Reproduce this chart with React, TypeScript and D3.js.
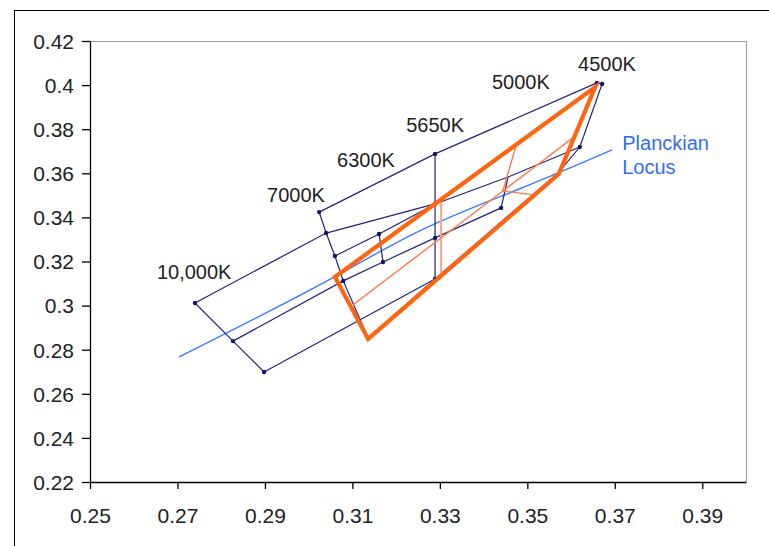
import React, { useEffect, useRef } from "react";
import * as d3 from "d3";

// chromaticity (CIE x, y)
const xTicks = [0.25, 0.27, 0.29, 0.31, 0.33, 0.35, 0.37, 0.39];
const yTicks = [0.22, 0.24, 0.26, 0.28, 0.3, 0.32, 0.34, 0.36, 0.38, 0.4, 0.42];

// isotemperature lines (navy)
const isoLines: [number, number][][] = [
    [[0.2740, 0.3012], [0.2827, 0.2839], [0.2898, 0.2699]], // 10,000K
    [[0.3024, 0.3424], [0.3040, 0.3329], [0.3060, 0.3225], [0.3079, 0.3112], [0.3136, 0.2853]], // 7000K
    [[0.3161, 0.3325], [0.3170, 0.3198]], // 6300K
    [[0.3289, 0.3688], [0.3289, 0.3461], [0.3289, 0.3307], [0.3289, 0.3121]], // 5650K
    [[0.3440, 0.3443], [0.3456, 0.3583]], // 5000K
    [[0.3659, 0.4010], [0.3671, 0.4005], [0.3620, 0.3719], [0.3570, 0.3601]], // 4500K
    [[0.3659, 0.4010], [0.3570, 0.3601]],
];

// lines joining the isotemperature lines (navy)
const duvLines: [number, number][][] = [
    [[0.3024, 0.3424], [0.3289, 0.3688], [0.3659, 0.4010]],
    [[0.2740, 0.3012], [0.3040, 0.3329], [0.3289, 0.3461]],
    [[0.3060, 0.3225], [0.3161, 0.3325], [0.3289, 0.3461], [0.3456, 0.3583], [0.3620, 0.3719]],
    [[0.2827, 0.2839], [0.3079, 0.3112], [0.3170, 0.3198], [0.3289, 0.3307], [0.3440, 0.3443]],
    [[0.2898, 0.2699], [0.3289, 0.3121]],
    [[0.3136, 0.2853], [0.3289, 0.3121], [0.3570, 0.3601]],
];

const dots: [number, number][] = [
    [0.2740, 0.3012], [0.2827, 0.2839], [0.2898, 0.2699],
    [0.3024, 0.3424], [0.3040, 0.3329], [0.3060, 0.3225], [0.3079, 0.3112], [0.3136, 0.2853],
    [0.3161, 0.3325], [0.3170, 0.3198],
    [0.3289, 0.3688], [0.3289, 0.3461], [0.3289, 0.3307], [0.3289, 0.3121],
    [0.3440, 0.3443],
    [0.3659, 0.4010], [0.3671, 0.4005], [0.3620, 0.3719],
];

// orange quadrangle and its subdivisions
const quad: [number, number][] = [[0.3060, 0.3130], [0.3655, 0.3991], [0.3572, 0.3597], [0.3136, 0.2849]];
const quadMid: [number, number][] = [[0.3101, 0.3003], [0.3607, 0.3765]];
const quadSplit: [number, number][] = [[0.3474, 0.3724], [0.3444, 0.3520], [0.3515, 0.3502]];
const quadSplit2: [number, number][] = [[0.3296, 0.3470], [0.3296, 0.3125]];

const locus: [number, number][] = [[0.2704, 0.2767], [0.3026, 0.3095], [0.3255, 0.3340], [0.3483, 0.3530], [0.3694, 0.3706]];

const cctLabels = ["10,000K", "7000K", "6300K", "5650K", "5000K", "4500K"];
const cctLabelPos: [number, number][] = [[0.2653, 0.3120], [0.2905, 0.3470], [0.3065, 0.3629], [0.3223, 0.3787], [0.3419, 0.3982], [0.3616, 0.4064]];
const locusLabel = ["Planckian", "Locus"];
const locusLabelPos: [number, number][] = [[0.3717, 0.3706], [0.3717, 0.3597]];

export default function App() {
    const ref = useRef<SVGSVGElement>(null);

    useEffect(() => {
        const svg = d3.select(ref.current);
        svg.selectAll("*").remove();

        const x = d3.scaleLinear().domain([0.25, 0.40]).range([90, 746]);
        const y = d3.scaleLinear().domain([0.22, 0.42]).range([482, 41]);
        const line = d3.line<[number, number]>().x(d => x(d[0])).y(d => y(d[1]));
        const font = "'Liberation Sans', Arial, sans-serif";

        svg.append("rect").attr("width", 769).attr("height", 546).attr("fill", "white");
        // chart frame
        svg.append("rect").attr("x", 14.5).attr("y", 10.5).attr("width", 800).attr("height", 600)
            .attr("fill", "none").attr("stroke", "#000").attr("stroke-width", 1);

        // plot area border (top, right)
        svg.append("path")
            .attr("d", `M${x(0.25)},${y(0.42) + 0.5}H${x(0.40) + 0.5}V${y(0.22)}`)
            .attr("fill", "none").attr("stroke", "#9a9a9a").attr("stroke-width", 1);

        // axes
        const ax = svg.append("g").attr("transform", `translate(0,${y(0.22)})`)
            .call(d3.axisBottom(x).tickValues(xTicks).tickSize(7).tickSizeOuter(0).tickFormat(d => String(d)));
        const ay = svg.append("g").attr("transform", `translate(${x(0.25)},0)`)
            .call(d3.axisLeft(y).tickValues(yTicks).tickSize(8).tickSizeOuter(0).tickFormat(d => String(d)));
        [ax, ay].forEach(a => {
            a.select(".domain").attr("stroke", "#000").attr("stroke-width", 1.3);
            a.selectAll(".tick line").attr("stroke", "#000").attr("stroke-width", 1.3);
            a.selectAll("text").attr("font-family", font).attr("font-size", 21).attr("fill", "#222");
        });
        ax.selectAll("text").attr("y", 18).attr("dy", "1.1em");
        ay.selectAll("text").attr("x", -16).attr("dy", "0.35em");

        const g = svg.append("g");

        // Planckian locus
        g.append("path").datum(locus).attr("d", line.curve(d3.curveNatural))
            .attr("fill", "none").attr("stroke", "#3a7bff").attr("stroke-width", 1.4);
        line.curve(d3.curveLinear);

        // navy grid
        [...isoLines, ...duvLines].forEach(l => {
            g.append("path").datum(l).attr("d", line)
                .attr("fill", "none").attr("stroke", "#22227e").attr("stroke-width", 1.2);
        });
        g.selectAll("circle").data(dots).enter().append("circle")
            .attr("cx", d => x(d[0])).attr("cy", d => y(d[1])).attr("r", 2.2).attr("fill", "#14146e");

        // orange quadrangle subdivisions
        g.append("path").datum(quadSplit2).attr("d", line)
            .attr("fill", "none").attr("stroke", "#f7a48a").attr("stroke-width", 2)
            .attr("transform", "translate(3,0)");
        [quadMid, quadSplit].forEach(l => {
            g.append("path").datum(l).attr("d", line)
                .attr("fill", "none").attr("stroke", "#ff7a45").attr("stroke-width", 1.4);
        });
        g.append("path").datum(quad).attr("d", d => line(d) + "Z")
            .attr("fill", "none").attr("stroke", "#ff6410").attr("stroke-width", 4.2)
            .attr("stroke-linejoin", "miter");

        // labels
        g.selectAll(".cct").data(cctLabels).enter().append("text")
            .attr("x", (d, i) => x(cctLabelPos[i][0])).attr("y", (d, i) => y(cctLabelPos[i][1]))
            .attr("font-family", font).attr("font-size", 20).attr("fill", "#222").text(d => d);
        g.selectAll(".loc").data(locusLabel).enter().append("text")
            .attr("x", (d, i) => x(locusLabelPos[i][0])).attr("y", (d, i) => y(locusLabelPos[i][1]))
            .attr("font-family", font).attr("font-size", 20).attr("fill", "#2f6cff").text(d => d);
    }, []);

    return (
        <svg ref={ref} width={769} height={546} style={{ position: "absolute", left: 0, top: 0 }} />
    );
}
